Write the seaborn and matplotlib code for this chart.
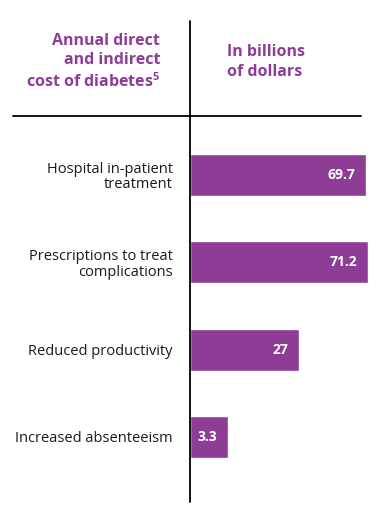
import matplotlib
matplotlib.use("Agg")
import matplotlib.pyplot as plt
import seaborn as sns
import numpy as np
import pandas as pd
from matplotlib.lines import Line2D

categories = ["Hospital in-patient\ntreatment", "Prescriptions to treat\ncomplications",
              "Reduced productivity", "Increased absenteeism"]
values = [69.7, 71.2, 27, 3.3]
value_labels = ["69.7", "71.2", "27", "3.3"]
title_left = "Annual direct\nand indirect\ncost of diabetes$^{\\mathbf{5}}$"
title_right = "In billions\nof dollars"

PURPLE = "#8E3D97"
W, H = 392, 523
sns.set_theme(style="white")
plt.rcParams['font.family'] = ['Open Sans', 'DejaVu Sans']
plt.rcParams['mathtext.fontset'] = 'custom'
plt.rcParams['mathtext.bf'] = 'Open Sans:bold'
plt.rcParams['mathtext.rm'] = 'Open Sans'

fig = plt.figure(figsize=(W / 100, H / 100), dpi=100)
# axes from x=189.5 to 368, y=116 to 502 (pixels)
ax = fig.add_axes([189.5 / W, 1 - 502 / H, (368 - 189.5) / W, (502 - 116) / H])

df = pd.DataFrame({"cat": categories, "val": values})
sns.barplot(data=df, y="cat", x="val", orient="h", color=PURPLE, saturation=1,
            width=0.48, ax=ax)
ax.set_xscale("function", functions=(np.sqrt, np.square))
ax.set_xlim(0, max(values))
ax.set_ylim(3.743, -0.669)
ax.set_xlabel("")
ax.set_ylabel("")
ax.set_xticks([])
ax.set_yticks(range(len(categories)))
ax.set_yticklabels(categories, fontsize=10.5, color="#1a1a1a", linespacing=1.05)
ax.tick_params(axis="y", length=0, pad=12)
for lab in ax.get_yticklabels():
    lab.set_horizontalalignment("right")
    lab.set_multialignment("right")
for s in ax.spines.values():
    s.set_visible(False)

for i, (v, t) in enumerate(zip(values, value_labels)):
    ax.annotate(t, xy=(v, i), xytext=(-8, 0), textcoords="offset points",
                ha="right", va="center", color="white", fontsize=10,
                fontweight="bold")

# divider lines
fig.add_artist(Line2D([189.5 / W, 189.5 / W], [1 - 21 / H, 1 - 502 / H],
                      color="black", lw=1.3, transform=fig.transFigure))
fig.add_artist(Line2D([13 / W, 361 / W], [1 - 116 / H, 1 - 116 / H],
                      color="black", lw=1.3, transform=fig.transFigure))

fig.text(160 / W, 1 - 62 / H, title_left, ha="right", va="center", color=PURPLE,
         fontsize=11.5, fontweight="bold", linespacing=1.3, multialignment="right")
fig.text(227 / W, 1 - 62 / H, title_right, ha="left", va="center", color=PURPLE,
         fontsize=11.5, fontweight="bold", linespacing=1.3)

fig.savefig("out.png", dpi=100, facecolor="white")
